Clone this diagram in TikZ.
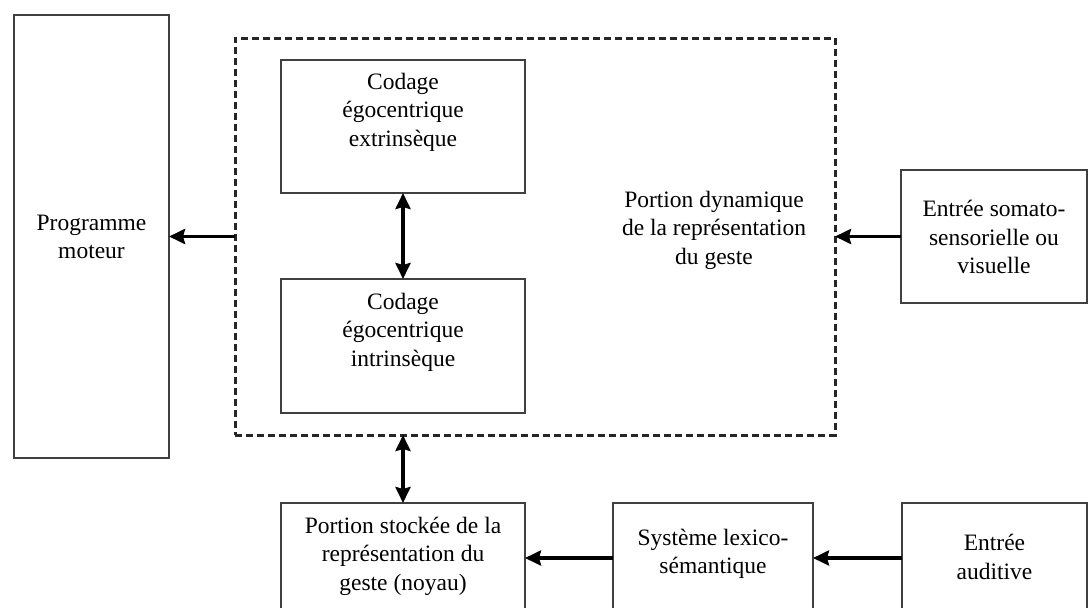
\documentclass[tikz,border=0pt]{standalone}
\usepackage{fontspec}
\setmainfont{Liberation Serif}
\usetikzlibrary{arrows.meta}
\begin{document}
\begin{tikzpicture}[x=1pt,y=-1pt,
  box/.style={draw=black!75,line width=2.2pt,rectangle,outer sep=0pt,inner sep=0pt},
  dynbox/.style={draw=black!85,line width=3pt,dash pattern=on 7pt off 4pt,rectangle,outer sep=0pt,inner sep=0pt},
  txt/.style={align=center,font=\fontsize{23.5}{28.5}\selectfont,inner sep=0pt},
  arr/.style={line width=3.6pt,-{Stealth[length=16pt,width=15pt,inset=2pt]}},
  darr/.style={line width=3.6pt,{Stealth[length=16pt,width=15pt,inset=2pt]}-{Stealth[length=16pt,width=15pt,inset=2pt]}}]
\useasboundingbox (0,0) rectangle (1088,608);
\clip (0,0) rectangle (1088,608);
% boxes
\node[box,minimum width=155pt,minimum height=443pt] (prog) at (91.5,236.5) {};
\node[dynbox,minimum width=600pt,minimum height=397pt] (dyn) at (535,236.5) {};
\node[box,minimum width=244pt,minimum height=133pt] (ext) at (403,126.5) {};
\node[box,minimum width=244pt,minimum height=134pt] (int) at (403,346) {};
\node[box,minimum width=186pt,minimum height=133pt] (soma) at (994,236.5) {};
\node[box,minimum width=244pt,minimum height=117pt] (stock) at (403,561.5) {};
\node[box,minimum width=200pt,minimum height=117pt] (lex) at (713,561.5) {};
\node[box,minimum width=185pt,minimum height=117pt] (aud) at (994.5,561.5) {};
% texts
\node[txt] (tprog) at (91.5,237) {Programme\\moteur};
\node[txt] (text) at (403,112) {Codage\\égocentrique\\extrinsèque};
\node[txt] (tint) at (403,332) {Codage\\égocentrique\\intrinsèque};
\node[txt] (tdyn) at (714,230) {Portion dynamique\\de la représentation\\du geste};
\node[txt] (tsoma) at (994,237) {Entrée somato-\\sensorielle ou\\visuelle};
\node[txt] (tstock) at (403,556) {Portion stockée de la\\représentation du\\geste (noyau)};
\node[txt] (tlex) at (713,554) {Système lexico-\\sémantique};
\node[txt] (taud) at (994.5,557) {Entrée\\auditive};
% connectors
\draw[arr] (dyn.west |- prog.east) -- (prog.east);
\draw[darr] (ext.south) -- (int.north);
\draw[darr] (dyn.south -| stock.north) -- (stock.north);
\draw[arr] (soma.west) -- (soma.west -| dyn.east);
\draw[arr] (lex.west |- 0,558) -- (stock.east |- 0,558);
\draw[arr] (aud.west |- 0,558) -- (lex.east |- 0,558);
\end{tikzpicture}
\end{document}
